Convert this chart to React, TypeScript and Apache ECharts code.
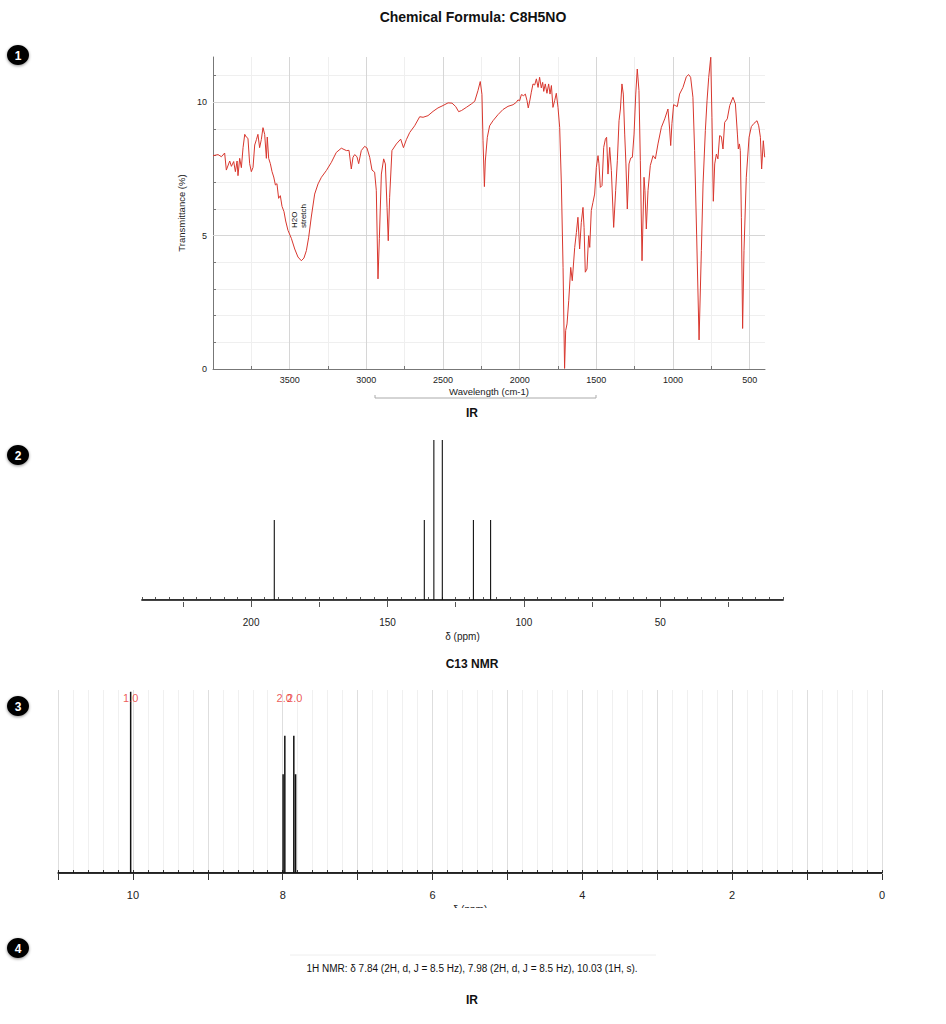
import React, { useEffect, useRef } from "react";
import * as echarts from "echarts";

// ---------- IR spectrum (wavenumber cm-1, transmittance %) ----------
const IR_WAVENUMBER = [
  4000, 3967, 3945, 3924, 3913, 3891, 3880, 3865, 3854, 3843, 3837, 3826, 3815, 3804, 3793, 3783, 3772, 3761, 3750, 3739,
  3728, 3717, 3707, 3696, 3685, 3674, 3663, 3652, 3646, 3637, 3626, 3615, 3604, 3593, 3583, 3572, 3561, 3550, 3537, 3526,
  3511, 3489, 3467, 3446, 3424, 3407, 3391, 3376, 3359, 3337, 3315, 3293, 3261, 3228, 3196, 3163, 3130, 3113, 3098, 3087,
  3076, 3061, 3050, 3033, 3011, 2996, 2978, 2963, 2946, 2935, 2924, 2915, 2902, 2887, 2876, 2865, 2857, 2848, 2833, 2804,
  2776, 2758, 2739, 2717, 2685, 2652, 2630, 2598, 2565, 2533, 2500, 2467, 2441, 2417, 2398, 2380, 2348, 2315, 2293, 2272,
  2257, 2246, 2239, 2230, 2224, 2211, 2196, 2174, 2141, 2109, 2076, 2043, 2022, 2011, 2000, 1989, 1974, 1963, 1952, 1944,
  1933, 1924, 1913, 1902, 1891, 1880, 1870, 1859, 1850, 1843, 1833, 1822, 1811, 1802, 1793, 1783, 1772, 1761, 1750, 1739,
  1728, 1717, 1707, 1700, 1691, 1680, 1667, 1657, 1641, 1630, 1620, 1609, 1598, 1587, 1580, 1572, 1561, 1550, 1543, 1533,
  1522, 1511, 1500, 1489, 1483, 1474, 1463, 1452, 1441, 1433, 1424, 1413, 1402, 1387, 1374, 1363, 1352, 1343, 1333, 1324,
  1315, 1307, 1298, 1287, 1276, 1265, 1254, 1243, 1233, 1222, 1213, 1202, 1189, 1183, 1174, 1163, 1148, 1130, 1115, 1098,
  1076, 1054, 1033, 1022, 1015, 1007, 996, 985, 972, 957, 935, 913, 898, 885, 870, 859, 846, 830, 815, 804,
  789, 778, 767, 754, 746, 737, 728, 717, 707, 696, 685, 674, 663, 646, 630, 609, 593, 580, 574, 567,
  561, 554, 546, 537, 522, 504, 489, 472, 452, 441, 430, 422, 411, 402,
];
const IR_TRANSMITTANCE = [
  8.0, 8.04, 7.96, 8.1, 7.46, 7.8, 7.6, 7.78, 7.4, 7.8, 7.25, 7.9, 7.55, 8.3, 8.8, 8.7, 8.65, 7.7, 7.4, 7.56,
  8.4, 8.6, 8.8, 8.3, 8.6, 9.05, 8.8, 7.9, 8.7, 7.9, 7.7, 7.4, 7.2, 6.9, 6.95, 6.4, 6.5, 6.1, 5.9, 5.55,
  5.2, 4.9, 4.5, 4.2, 4.06, 4.16, 4.44, 4.94, 5.7, 6.56, 6.94, 7.19, 7.44, 7.75, 8.12, 8.28, 8.19, 8.2, 7.5, 7.94,
  8.04, 7.96, 7.7, 8.19, 8.35, 8.29, 7.94, 7.46, 7.38, 6.7, 3.38, 4.9, 7.31, 7.88, 7.69, 6.06, 4.81, 6.44, 8.19, 8.44,
  8.62, 8.3, 8.6, 8.87, 9.12, 9.46, 9.44, 9.5, 9.66, 9.79, 9.88, 9.98, 9.97, 9.84, 9.65, 9.69, 9.81, 9.94, 10.04, 10.44,
  10.78, 10.3, 8.56, 6.84, 7.8, 8.69, 9.12, 9.31, 9.54, 9.73, 9.85, 9.91, 10.0, 10.09, 10.06, 10.29, 10.25, 10.31, 10.06, 9.79,
  10.09, 10.38, 10.69, 10.65, 10.88, 10.56, 10.94, 10.54, 10.75, 10.41, 10.69, 10.34, 10.69, 10.31, 10.63, 9.81, 10.06, 10.34, 9.81, 9.06,
  6.94, 3.81, 0.02, 1.44, 1.69, 2.56, 3.81, 3.31, 4.56, 5.12, 5.69, 4.5, 5.5, 6.06, 5.3, 3.63, 3.75, 5.0, 4.56, 5.94,
  6.25, 6.56, 7.56, 8.0, 7.7, 6.81, 6.88, 8.31, 8.62, 8.69, 7.31, 8.31, 7.44, 5.31, 6.69, 7.81, 9.31, 9.75, 10.69, 10.31,
  8.81, 7.69, 6.0, 7.69, 7.91, 7.94, 8.81, 10.31, 11.25, 10.44, 7.81, 4.06, 7.19, 6.7, 5.25, 6.69, 7.63, 8.0, 7.88, 8.44,
  9.06, 9.38, 9.75, 9.0, 8.38, 9.2, 9.91, 9.88, 9.84, 10.31, 10.56, 10.96, 11.04, 10.94, 10.19, 8.19, 5.06, 1.09, 4.44, 6.94,
  8.94, 10.06, 10.94, 11.69, 9.44, 6.29, 7.69, 8.06, 7.88, 8.75, 8.72, 8.25, 9.25, 9.38, 9.88, 10.19, 9.94, 8.81, 8.25, 8.44,
  8.19, 5.69, 1.52, 4.44, 7.19, 8.69, 9.09, 9.21, 9.31, 9.12, 8.69, 7.5, 8.56, 7.94,
];
const IR_X_LABELS = [500, 1000, 1500, 2000, 2500, 3000, 3500];
const IR_X_TICKS = [500, 750, 1000, 1250, 1500, 1750, 2000, 2250, 2500, 2750, 3000, 3250, 3500, 3750];
const IR_Y_LABELS = [0, 5, 10];
const IR_Y_TICKS = [0, 1, 2, 3, 4, 5, 6, 7, 8, 9, 10, 11];

// ---------- 13C NMR ----------
const C13_SHIFTS = [191.5, 136.5, 133.0, 129.9, 118.5, 112.2];
const C13_HEIGHTS = [0.5, 0.5, 1.0, 1.0, 0.5, 0.5];
const C13_X_LABELS = [50, 100, 150, 200];
const C13_MID_TICKS = [25, 75, 125, 175, 225];

// ---------- 1H NMR ----------
const H1_LINES = [10.03, 7.995, 7.972, 7.852, 7.828];
const H1_HEIGHTS = [0.99, 0.54, 0.75, 0.75, 0.54];
const H1_MULTIPLETS = [10.03, 7.98, 7.84];
const H1_INTEGRALS = ["1.0", "2.0", "2.0"];
const H1_X_LABELS = [0, 2, 4, 6, 8, 10];

const TITLE = "Chemical Formula: C8H5NO";
const H1_TEXT = "1H NMR: δ 7.84 (2H, d, J = 8.5 Hz), 7.98 (2H, d, J = 8.5 Hz), 10.03 (1H, s).";
const BADGES = ["1", "2", "3", "4"];

const FONT = "'Liberation Sans', Arial, Helvetica, sans-serif";

function sticks(pos: number[], h: number[], hi: number, lo: number) {
  const idx = pos.map((_, i) => i).sort((a, b) => pos[b] - pos[a]);
  const pts: number[][] = [[hi, 0]];
  for (const i of idx) {
    pts.push([pos[i], 0], [pos[i], h[i]], [pos[i], 0]);
  }
  pts.push([lo, 0]);
  return pts;
}

const plain = (v: number) => String(v);

export default function App() {
  const ref = useRef<HTMLDivElement>(null);

  useEffect(() => {
    if (!ref.current) return;
    const chart = echarts.init(ref.current, undefined, { renderer: "svg" });

    const txt = (x: number, y: number, text: string, font: string, fill = "#111") => ({
      type: "text",
      x,
      y,
      z: 50,
      style: { text, font, fill, textAlign: "center", textVerticalAlign: "middle", align: "center", verticalAlign: "middle" },
    });

    const badgeY = [55, 455, 706, 948];
    const badges: any[] = [];
    BADGES.forEach((b, i) => {
      badges.push({
        type: "ellipse",
        z: 50,
        shape: { cx: 18, cy: badgeY[i], rx: 11, ry: 10 },
        style: { fill: "#050505", shadowBlur: 3, shadowColor: "rgba(0,0,0,0.45)", shadowOffsetY: 1 },
      });
      badges.push(txt(18, badgeY[i] + 0.5, b, `bold 12px ${FONT}`, "#ffffff"));
    });

    const option: any = {
      animation: false,
      backgroundColor: "#ffffff",
      textStyle: { fontFamily: FONT },
      grid: [
        { left: 213, top: 57, width: 552, height: 312, outerBoundsMode: "none" },
        { left: 142, top: 440, width: 641, height: 160, outerBoundsMode: "none" },
        { left: 58, top: 690, width: 824, height: 183, outerBoundsMode: "none" },
      ],
      xAxis: [
        {
          gridIndex: 0, type: "value", position: "bottom", inverse: true, min: 400, max: 4000, interval: 50,
          axisLine: { show: true, lineStyle: { color: "#777", width: 1 } },
          axisTick: { show: true, inside: true, length: 3, customValues: IR_X_TICKS, lineStyle: { color: "#777" } },
          axisLabel: { customValues: IR_X_LABELS, formatter: plain, fontSize: 9, color: "#222", margin: 6, fontFamily: FONT },
          splitLine: { show: true, lineStyle: { color: "#efefef", width: 1 } },
          name: "Wavelength (cm-1)", nameLocation: "middle", nameGap: 17,
          nameTextStyle: { fontSize: 9.5, color: "#222", fontFamily: FONT },
        },
        {
          gridIndex: 1, type: "value", position: "bottom", inverse: true, min: 5, max: 240, interval: 5, offset: 7,
          axisLine: { show: true, lineStyle: { color: "#555", width: 2 } },
          axisTick: { show: true, inside: true, length: 3, lineStyle: { color: "#555" } },
          axisLabel: { customValues: C13_X_LABELS, formatter: plain, fontSize: 10, color: "#222", margin: 10, fontFamily: FONT },
          splitLine: { show: false },
          name: "δ (ppm)", nameLocation: "middle", nameGap: 24,
          nameTextStyle: { fontSize: 10, color: "#222", fontFamily: FONT },
        },
        {
          gridIndex: 1, type: "value", position: "bottom", inverse: true, min: 5, max: 240, offset: 7,
          axisLine: { show: false },
          axisTick: { show: true, inside: true, length: 5, customValues: C13_MID_TICKS, lineStyle: { color: "#555" } },
          axisLabel: { show: false }, splitLine: { show: false },
        },
        {
          gridIndex: 1, type: "value", position: "bottom", inverse: true, min: 5, max: 240, offset: 7,
          axisLine: { show: false },
          axisTick: { show: true, inside: true, length: 7, customValues: C13_X_LABELS, lineStyle: { color: "#555" } },
          axisLabel: { show: false }, splitLine: { show: false },
        },
        {
          gridIndex: 2, type: "value", position: "bottom", inverse: true, min: 0, max: 11, interval: 0.2, offset: 7,
          axisLine: { show: true, lineStyle: { color: "#222", width: 1.5 } },
          axisTick: { show: true, inside: true, length: 3, lineStyle: { color: "#333" } },
          axisLabel: { customValues: H1_X_LABELS, formatter: plain, fontSize: 11, color: "#222", margin: 9, fontFamily: FONT },
          splitLine: { show: true, lineStyle: { color: "#f0f0f0", width: 1 } },
          name: "δ (ppm)", nameLocation: "middle", nameGap: 24,
          nameTextStyle: { fontSize: 10, color: "#222", fontFamily: FONT },
        },
        {
          gridIndex: 2, type: "value", position: "bottom", inverse: true, min: 0, max: 11, interval: 1, offset: 7,
          axisLine: { show: false },
          axisTick: { show: true, inside: true, length: 6, lineStyle: { color: "#333" } },
          axisLabel: { show: false },
          splitLine: { show: true, lineStyle: { color: "#dedede", width: 1 } },
        },
      ],
      yAxis: [
        {
          gridIndex: 0, type: "value", position: "left", min: 0, max: 11.7, interval: 0.5,
          axisLine: { show: true, lineStyle: { color: "#777", width: 1 } },
          axisTick: { show: true, inside: true, length: 3, customValues: IR_Y_TICKS, lineStyle: { color: "#777" } },
          axisLabel: { customValues: IR_Y_LABELS, formatter: plain, fontSize: 9, color: "#222", margin: 6, fontFamily: FONT },
          splitLine: { show: true, lineStyle: { color: "#efefef", width: 1 } },
          name: "Transmittance (%)", nameLocation: "middle", nameGap: 27,
          nameTextStyle: { fontSize: 9.5, color: "#222", fontFamily: FONT },
        },
        { gridIndex: 1, type: "value", min: 0, max: 1, show: false },
        { gridIndex: 2, type: "value", min: 0, max: 1, show: false },
      ],
      series: [
        {
          type: "line", xAxisIndex: 0, yAxisIndex: 0, z: 1, silent: true,
          data: [[400, -10]], showSymbol: false, lineStyle: { opacity: 0 },
          markLine: {
            silent: true, symbol: ["none", "none"], label: { show: false },
            lineStyle: { color: "#d6d6d6", type: "solid", width: 1 },
            data: [
              ...IR_X_LABELS.map((v) => ({ xAxis: v })),
              ...IR_Y_LABELS.filter((v) => v > 0).map((v) => ({ yAxis: v })),
            ],
          },
        },
        {
          type: "line", xAxisIndex: 0, yAxisIndex: 0, z: 5,
          data: IR_WAVENUMBER.map((w, i) => [w, IR_TRANSMITTANCE[i]]),
          showSymbol: false, smooth: false,
          lineStyle: { color: "#d8372e", width: 1 },
        },
        {
          type: "line", xAxisIndex: 1, yAxisIndex: 1, z: 5,
          data: sticks(C13_SHIFTS, C13_HEIGHTS, 240, 5),
          showSymbol: false, lineStyle: { color: "#111", width: 1.1 },
        },
        {
          type: "line", xAxisIndex: 4, yAxisIndex: 2, z: 5,
          data: sticks(H1_LINES, H1_HEIGHTS, 11, 0),
          showSymbol: false, lineStyle: { color: "#111", width: 1.5 },
        },
        {
          type: "scatter", xAxisIndex: 4, yAxisIndex: 2, z: 6, symbolSize: 0.1,
          data: H1_MULTIPLETS.map((p) => [p, 1]),
          label: {
            show: true, position: "bottom", distance: 2,
            formatter: (p: any) => H1_INTEGRALS[p.dataIndex],
            color: "#e8322f", fontSize: 11, fontFamily: FONT,
          },
        },
      ],
      graphic: [
        txt(473, 17, TITLE, `bold 14px ${FONT}`),
        {
          type: "polyline", z: 50,
          shape: { points: [[375, 395], [375, 398], [596, 398], [596, 395]] },
          style: { stroke: "#aaaaaa", lineWidth: 1, fill: null },
        },
        txt(472, 413, "IR", `bold 12px ${FONT}`),
        {
          type: "text", x: 299, y: 228, rotation: Math.PI / 2, z: 50,
          style: {
            text: "H2O\nstretch", font: `8px ${FONT}`, fill: "#111", lineHeight: 9,
            textAlign: "left", textVerticalAlign: "middle", align: "left", verticalAlign: "middle",
          },
        },
        txt(472, 664, "C13 NMR", `bold 12px ${FONT}`),
        {
          type: "rect", z: 100,
          shape: { x: 30, y: 908, width: 880, height: 24 },
          style: { fill: "#ffffff" },
        },
        {
          type: "line", z: 50,
          shape: { x1: 290, y1: 955, x2: 656, y2: 955 },
          style: { stroke: "#eeeeee", lineWidth: 1 },
        },
        txt(472, 968, H1_TEXT, `10px ${FONT}`),
        txt(472, 1000, "IR", `bold 12px ${FONT}`),
        ...badges,
      ],
    };

    chart.setOption(option);
    return () => chart.dispose();
  }, []);

  return <div ref={ref} style={{ position: "absolute", left: 0, top: 0, width: 946, height: 1024 }} />;
}
